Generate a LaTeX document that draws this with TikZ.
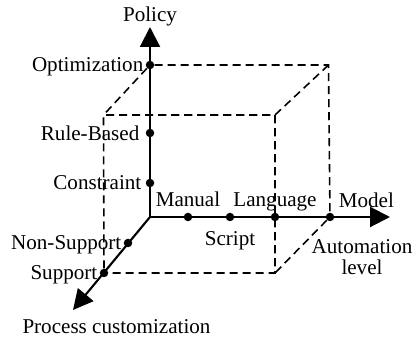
\documentclass[tikz,border=0pt]{standalone}
\usepackage{fontspec}
\setmainfont{Liberation Serif}
\usetikzlibrary{arrows.meta,positioning}

\begin{document}
\begin{tikzpicture}[scale=1, font=\fontsize{12}{14}\selectfont,
  axis/.style={line width=1.2pt, -{Triangle[length=0.4cm,width=0.4cm]}},
  edge/.style={line width=0.9pt, dash pattern=on 4.6pt off 2.8pt},
  pt/.style={circle, fill=black, inner sep=0pt, minimum size=0.17cm},
  lbl/.style={inner sep=1pt, text depth=0pt}]
\useasboundingbox (0,0) rectangle (8.28,6.84);

% axes ends
\coordinate (O) at (3,2.5);
\coordinate (pTip) at (3,6.3);
\coordinate (aTip) at (7.8,2.5);
\coordinate (cTip) at (1.46,0.64);

% points on the axes
\node[pt] (opt) at (3,5.54) {};
\node[pt] (rule) at (3,4.18) {};
\node[pt] (cons) at (3,3.18) {};
\node[pt] (man) at (3.76,2.5) {};
\node[pt] (scr) at (4.6,2.5) {};
\node[pt] (lang) at (5.5,2.5) {};
\node[pt] (mod) at (6.6,2.5) {};
\node[pt] (nsup) at (2.56,1.98) {};
\node[pt] (sup) at (2.08,1.38) {};

% cube corners
\coordinate (bTR) at (6.57,5.54);
\coordinate (fTL) at (2.07,4.54);
\coordinate (fTR) at (5.5,4.54);
\coordinate (fBR) at (5.5,1.38);

\draw[edge] (opt) -- (bTR) -- (mod);
\draw[edge] (opt) -- (fTL);
\draw[edge] (bTR) -- (fTR);
\draw[edge] (mod) -- (fBR);
\draw[edge] (sup) -- (fTL) -- (fTR) -- (fBR) -- (sup);

\draw[axis] (O) -- (pTip);
\draw[axis] (O) -- (aTip);
\draw[axis] (O) -- (cTip);

% labels
\node[lbl, above=0.07cm of pTip] (polT) {Policy};
\node[lbl, left=0pt of opt] (optT) {Optimization};
\node[lbl, left=0.08cm of rule] (ruleT) {Rule-Based};
\node[lbl, left=0.04cm of cons] (consT) {Constraint};
\node[lbl, above=0.08cm of man] (manT) {Manual};
\node[lbl, below=0.15cm of scr] (scrT) {Script};
\node[lbl, above=0.08cm of lang] (langT) {Language};
\node[lbl, above right=0.08cm and 0.07cm of mod] (modT) {Model};
\node[lbl, align=center, font=\fontsize{12}{11.5}\selectfont] (autoT) at (7.24,1.7) {Automation\\level};
\node[lbl, left=0pt of nsup] (nsupT) {Non-Support};
\node[lbl, left=0pt of sup] (supT) {Support};
\node[lbl] (procT) at (2.33,0.3) {Process customization};

\end{tikzpicture}
\end{document}
